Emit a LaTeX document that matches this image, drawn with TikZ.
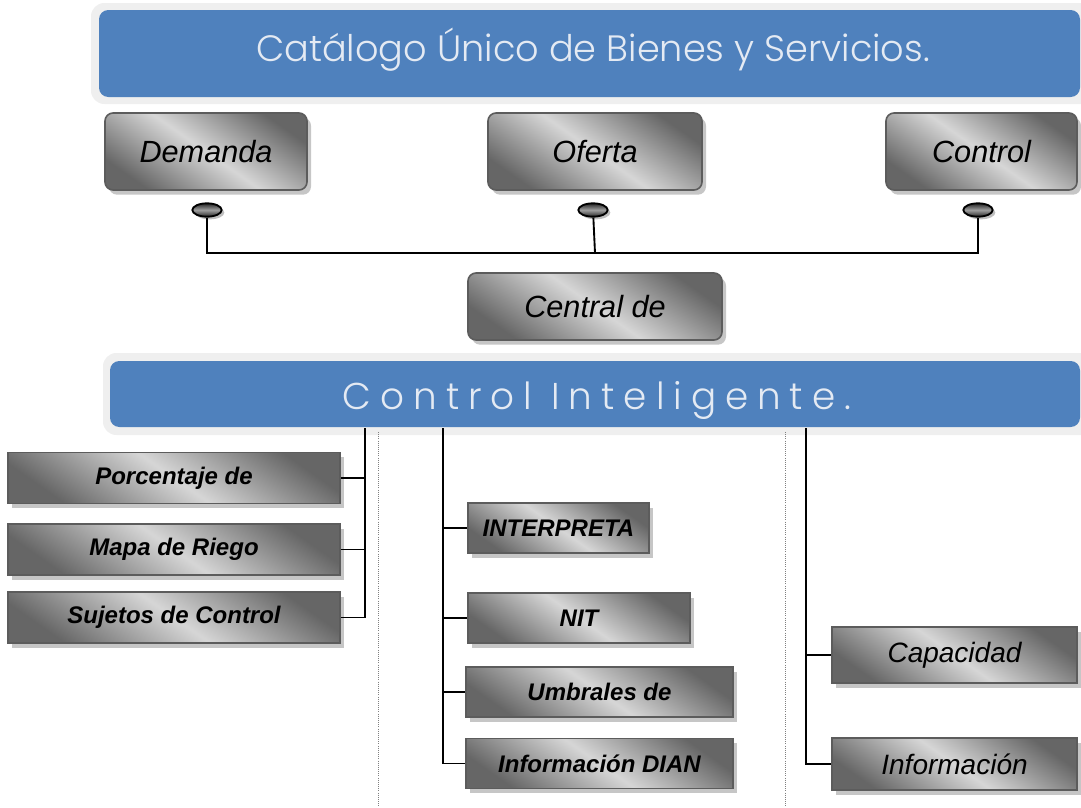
\documentclass[tikz,border=0pt]{standalone}
\usepackage{fontspec}
\setmainfont{Liberation Sans}
\newfontfamily\bannerfont{Poppins Light}
\usepackage{tikz}
\usetikzlibrary{shapes.geometric}
\usetikzlibrary{shadows}
\definecolor{bannerblue}{HTML}{4F81BD}
\definecolor{framegray}{HTML}{EFEFEF}
\definecolor{bannertext}{HTML}{E4EAF3}
\definecolor{boxline}{HTML}{5C5C5C}
\definecolor{shadedark}{HTML}{666666}
\definecolor{shadelight}{HTML}{D6D6D6}

\begin{document}
\begin{tikzpicture}[x=0.75pt,y=-0.75pt,
	gray box/.style={draw=boxline, line width=1.2pt, shading=axis, top color=shadedark, bottom color=shadedark, middle color=shadelight, shading angle=-35, inner sep=0pt,
		drop shadow={shadow xshift=3pt, shadow yshift=-3.5pt, fill=gray!45, opacity=1}},
	top box/.style={gray box, rounded corners=6pt, font=\itshape\fontsize{23}{26}\selectfont},
	leaf box/.style={gray box, font=\bfseries\itshape\fontsize{18}{21}\selectfont},
	thin box/.style={gray box, font=\itshape\fontsize{21}{24}\selectfont},
	button/.style={ellipse, draw=black, line width=1.4pt, minimum width=22pt, minimum height=10pt, inner sep=0pt, shading=axis, top color=black!85, bottom color=black!85, middle color=gray!75,
		drop shadow={shadow xshift=2pt, shadow yshift=-2pt, fill=gray!50, opacity=1}},
	link/.style={draw=black, line width=1.4pt},
	banner text/.style={text=bannertext, font=\bannerfont\fontsize{27.5}{31}\selectfont}]
	\useasboundingbox (0,0) rectangle (1081,807);
	
	% Banners
	\fill[framegray, rounded corners=10pt] (91,3) rectangle (1095,104);
	\fill[bannerblue, rounded corners=7pt] (99,10) rectangle (1080,97);
	\node[banner text] (cat) at (593,50) {Catálogo Único de Bienes y Servicios.};
	
	\fill[framegray, rounded corners=10pt] (103,353) rectangle (1095,435);
	\fill[bannerblue, rounded corners=7pt] (110,361) rectangle (1080,427);
	\node[banner text, font=\bannerfont\fontsize{28}{31}\selectfont] (ci) at (597,400) {\addfontfeature{LetterSpace=24}Control Inteligente.};
	
	% Nodes
	\node[top box, minimum width=151.5pt, minimum height=57.75pt] (dem) at (206,151.5) {Demanda};
	\node[top box, minimum width=160.5pt, minimum height=57.75pt] (ofe) at (595,151.5) {Oferta};
	\node[top box, minimum width=143.25pt, minimum height=57.75pt] (con) at (981.5,151.5) {Control};
	\node[top box, minimum width=190.5pt, minimum height=50.25pt] (cen) at (595,306.5) {Central de};
	
	\node[button] (bd) at (207,210) {};
	\node[button] (bo) at (593,210) {};
	\node[button] (bc) at (978,210) {};
	\coordinate (jn) at (595,253);
	
	\node[leaf box, minimum width=249pt, minimum height=38.25pt] (pct) at (174,478) {Porcentaje de};
	\node[leaf box, minimum width=249pt, minimum height=38.25pt] (map) at (174,549.5) {Mapa de Riego};
	\node[leaf box, minimum width=249pt, minimum height=38.25pt] (suj) at (174,617.5) {Sujetos de Control};
	
	\node[leaf box, minimum width=135.75pt, minimum height=37.5pt] (int) at (558.5,528) {INTERPRETA};
	\node[leaf box, minimum width=166.5pt, minimum height=37.5pt] (nit) at (579,618) {NIT};
	\node[leaf box, minimum width=200.25pt, minimum height=37.5pt] (umb) at (599.5,692) {Umbrales de};
	\node[leaf box, minimum width=200.25pt, minimum height=37.5pt] (dian) at (599.5,763.5) {Información DIAN};
	
	\node[thin box, minimum width=183.75pt, minimum height=42pt] (cap) at (954.5,655) {Capacidad};
	\node[thin box, minimum width=183.75pt, minimum height=39pt] (inf) at (954.5,764) {Información};
	
	% separators
	\draw[gray, densely dotted, line width=0.6pt] (378,432) -- (378,807);
	\draw[gray, densely dotted, line width=0.6pt] (785,432) -- (785,807);
	
	% Links
	\coordinate (lt) at (365,428);
	\coordinate (mt) at (443,428);
	\coordinate (rt) at (806,428);
	
	\draw[link] (bd) |- (jn) -| (bc);
	\draw[link] (bo) -- (jn);
	
	\draw[link] (lt) |- (pct);
	\draw[link] (lt) |- (map);
	\draw[link] (lt) |- (suj);
	
	\draw[link] (mt) |- (int);
	\draw[link] (mt) |- (nit);
	\draw[link] (mt) |- (umb);
	\draw[link] (mt) |- (dian);
	
	\draw[link] (rt) |- (cap);
	\draw[link] (rt) |- (inf);
	
\end{tikzpicture}
\end{document}
